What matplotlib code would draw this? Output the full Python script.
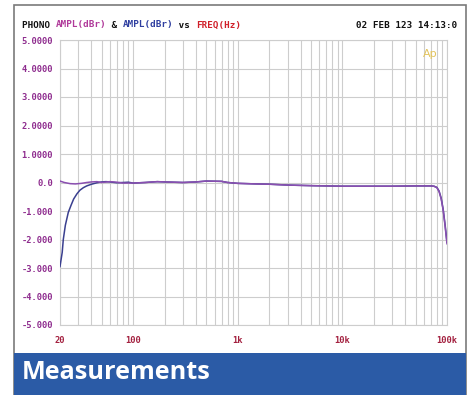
import matplotlib
matplotlib.use('Agg')
import matplotlib.pyplot as plt
from matplotlib.patches import Rectangle

# data
freq_hp = [20, 21, 21.5, 22.5, 24, 25.5, 27, 29, 31, 33.5, 36, 40, 45, 50, 55, 60,
           70, 80, 90, 100, 130, 170, 200, 300, 400, 500, 700, 800, 1000, 1500,
           2000, 3000, 5000, 7000, 10000, 15000, 20000, 30000, 50000, 70000, 75000,
           80000, 84000, 88000, 92000, 96000, 100000]
ampl_hp = [-2.95, -2.45, -2.0, -1.5, -1.05, -0.8, -0.58, -0.4, -0.27, -0.18, -0.12,
           -0.06, -0.01, 0.02, 0.03, 0.02, -0.01, 0.0, 0.01, -0.02, 0.0, 0.03, 0.02,
           0.0, 0.02, 0.05, 0.04, 0.0, -0.03, -0.05, -0.06, -0.09, -0.11, -0.12,
           -0.13, -0.13, -0.13, -0.13, -0.12, -0.12, -0.13, -0.17, -0.3, -0.55,
           -0.95, -1.5, -2.1]
freq_flat = [20, 22, 25, 28, 32, 36, 40, 45, 50, 60, 70, 80, 100, 130, 170, 200,
             300, 400, 500, 700, 800, 1000, 1500, 2000, 3000, 5000, 7000, 10000,
             15000, 20000, 30000, 50000, 70000, 75000, 80000, 84000, 88000, 92000,
             96000, 100000]
ampl_flat = [0.05, 0.0, -0.04, -0.05, -0.03, 0.0, 0.02, 0.03, 0.0, 0.03, 0.01,
             -0.02, -0.02, 0.0, 0.03, 0.02, 0.0, 0.02, 0.05, 0.04, 0.0, -0.03,
             -0.05, -0.06, -0.09, -0.11, -0.12, -0.13, -0.13, -0.13, -0.13, -0.12,
             -0.12, -0.13, -0.18, -0.32, -0.58, -0.98, -1.55, -2.15]

yticks = [5, 4, 3, 2, 1, 0, -1, -2, -3, -4, -5]
ytick_labels = ['5.0000', '4.0000', '3.0000', '2.0000', '1.0000', '0.0',
                '-1.000', '-2.000', '-3.000', '-4.000', '-5.000']
xticks = [20, 100, 1000, 10000, 100000]
xtick_labels = ['20', '100', '1k', '10k', '100k']
grid_freqs = [f * m for m in [10, 100, 1000, 10000] for f in range(1, 10)] + [100000]
grid_freqs = [f for f in grid_freqs if 20 <= f <= 100000]

W, H = 470, 395
MONO = 'DejaVu Sans Mono'
PURPLE = '#8E2C8E'
BLUE_LINE = '#3A3F8F'
BLUE_BAND = '#2B5BA6'
GRID = '#CDCDCD'

fig = plt.figure(figsize=(W / 100, H / 100), dpi=100)
fig.patch.set_facecolor('white')

# outer frame and blue band (behind the axes)
fig.add_artist(Rectangle((14 / W, 0), 452 / W, 390 / H, transform=fig.transFigure,
                         facecolor='white', edgecolor='#7A7A7A', linewidth=1.2,
                         zorder=-2))
fig.add_artist(Rectangle((14 / W, 0), 452 / W, 42 / H, transform=fig.transFigure,
                         facecolor=BLUE_BAND, edgecolor='none', zorder=-1))
fig.text(22 / W, 22.5 / H, 'Measurements', color='white', fontsize=18.2,
         fontweight='bold', family='Open Sans', va='center', ha='left')

ax = fig.add_axes([60 / W, 1 - 325 / H, 387 / W, 285 / H])
ax.set_facecolor('none')
ax.set_xscale('log')
ax.set_xlim(20, 100000)
ax.set_ylim(-5, 5)
for f in grid_freqs:
    ax.axvline(f, color=GRID, linewidth=0.8, zorder=1)
for y in yticks:
    ax.axhline(y, color=GRID, linewidth=0.8, zorder=1)
for s in ax.spines.values():
    s.set_color(GRID)
    s.set_linewidth(0.8)

ax.plot(freq_hp, ampl_hp, color=BLUE_LINE, linewidth=1.1, zorder=3)
ax.plot(freq_flat, ampl_flat, color='#8A4FB0', linewidth=1.1, zorder=4)

ax.set_yticks(yticks)
ax.set_yticklabels(ytick_labels, family=MONO, fontweight='bold', fontsize=6.3,
                   color=PURPLE)
ax.set_xticks(xticks)
ax.set_xticklabels(xtick_labels, family=MONO, fontweight='bold', fontsize=6.3,
                   color='#A3203F')
ax.minorticks_off()
ax.tick_params(length=0, pad=5)
ax.tick_params(axis='x', pad=8)

ax.text(0.975, 0.97, 'Ap', transform=ax.transAxes, ha='right', va='top',
        fontsize=8, color='#E3C35A', family='DejaVu Sans')

# title in colored segments (monospace, so fixed advance)
title_size = 6.7
segments = [('PHONO ', '#111111'), ('AMPL(dBr)', '#B03A9A'), (' & ', '#111111'),
            ('AMPL(dBr)', '#2F3FA0'), (' vs ', '#111111'), ('FREQ(Hz)', '#D0202A')]
char_w = 0.602 * title_size * 100 / 72
x0 = 22
for txt, col in segments:
    fig.text(x0 / W, 1 - 25 / H, txt, color=col, family=MONO, fontweight='bold',
             fontsize=title_size, va='center', ha='left')
    x0 += len(txt) * char_w
fig.text(457 / W, 1 - 25 / H, '02 FEB 123 14:13:0', color='#111111', family=MONO,
         fontweight='bold', fontsize=title_size, va='center', ha='right')

fig.savefig('out.png', dpi=100, facecolor='white')
